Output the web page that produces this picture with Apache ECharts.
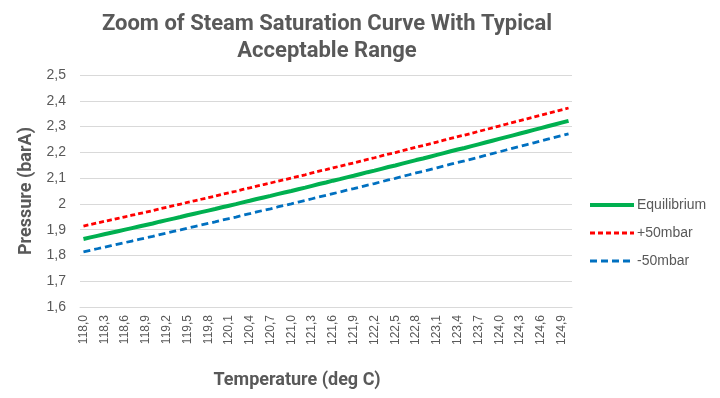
<!DOCTYPE html>
<html>
<head>
<meta charset="utf-8">
<script src="https://cdn.jsdelivr.net/npm/echarts@6/dist/echarts.min.js"></script>
<style>
  html, body { margin: 0; padding: 0; background: #fff; }
  #chart { width: 720px; height: 398px; }
</style>
</head>
<body>
<div id="chart"></div>
<script>
// temperature steps (deg C), 0.1 apart
var temps = [
  '118,0','118,1','118,2','118,3','118,4','118,5','118,6','118,7','118,8','118,9',
  '119,0','119,1','119,2','119,3','119,4','119,5','119,6','119,7','119,8','119,9',
  '120,0','120,1','120,2','120,3','120,4','120,5','120,6','120,7','120,8','120,9',
  '121,0','121,1','121,2','121,3','121,4','121,5','121,6','121,7','121,8','121,9',
  '122,0','122,1','122,2','122,3','122,4','122,5','122,6','122,7','122,8','122,9',
  '123,0','123,1','123,2','123,3','123,4','123,5','123,6','123,7','123,8','123,9',
  '124,0','124,1','124,2','124,3','124,4','124,5','124,6','124,7','124,8','124,9',
  '125,0'
];

// saturation pressure (barA)
var equilibrium = [
  1.864,1.870,1.876,1.882,1.888,1.894,1.900,1.906,1.912,1.918,
  1.924,1.931,1.937,1.943,1.949,1.956,1.962,1.968,1.974,1.980,
  1.987,1.993,1.999,2.006,2.012,2.019,2.025,2.031,2.038,2.044,
  2.050,2.057,2.063,2.070,2.077,2.083,2.090,2.096,2.103,2.109,
  2.116,2.123,2.129,2.136,2.143,2.149,2.156,2.163,2.170,2.176,
  2.183,2.190,2.197,2.204,2.211,2.217,2.224,2.231,2.238,2.245,
  2.252,2.259,2.266,2.273,2.280,2.287,2.294,2.301,2.308,2.315,
  2.322
];

var plus50 = [
  1.914,1.920,1.926,1.932,1.938,1.944,1.950,1.956,1.962,1.968,
  1.974,1.981,1.987,1.993,1.999,2.006,2.012,2.018,2.024,2.030,
  2.037,2.043,2.049,2.056,2.062,2.069,2.075,2.081,2.088,2.094,
  2.100,2.107,2.113,2.120,2.127,2.133,2.140,2.146,2.153,2.159,
  2.166,2.173,2.179,2.186,2.193,2.199,2.206,2.213,2.220,2.226,
  2.233,2.240,2.247,2.254,2.261,2.267,2.274,2.281,2.288,2.295,
  2.302,2.309,2.316,2.323,2.330,2.337,2.344,2.351,2.358,2.365,
  2.372
];

var minus50 = [
  1.814,1.820,1.826,1.832,1.838,1.844,1.850,1.856,1.862,1.868,
  1.874,1.881,1.887,1.893,1.899,1.906,1.912,1.918,1.924,1.930,
  1.937,1.943,1.949,1.956,1.962,1.969,1.975,1.981,1.988,1.994,
  2.000,2.007,2.013,2.020,2.027,2.033,2.040,2.046,2.053,2.059,
  2.066,2.073,2.079,2.086,2.093,2.099,2.106,2.113,2.120,2.126,
  2.133,2.140,2.147,2.154,2.161,2.167,2.174,2.181,2.188,2.195,
  2.202,2.209,2.216,2.223,2.230,2.237,2.244,2.251,2.258,2.265,
  2.272
];

var seriesNames = ['Equilibrium', '+50mbar', '-50mbar'];

var textColor = '#595959';
var font = 'Liberation Sans, Arial, sans-serif';

var chart = echarts.init(document.getElementById('chart'));
var option = {
  backgroundColor: '#fff',
  animation: false,
  textStyle: { fontFamily: font },
  title: {
    text: 'Zoom of Steam Saturation Curve With Typical\nAcceptable Range',
    left: 322,
    top: 6,
    textAlign: 'center',
    textStyle: {
      fontFamily: 'Roboto, sans-serif',
      fontSize: 22,
      fontWeight: 'bold',
      color: textColor,
      lineHeight: 27
    }
  },
  legend: {
    orient: 'vertical',
    left: 588,
    top: 198,
    padding: 0,
    itemWidth: 44,
    itemHeight: 14,
    itemGap: 14,
    data: seriesNames,
    itemStyle: { opacity: 0 },
    lineStyle: { width: 'inherit' },
    textStyle: { color: textColor, fontSize: 14, fontFamily: font, padding: [0, 0, 0, -2] }
  },
  grid: {
    left: 80,
    right: 148,
    top: 75,
    bottom: 91,
    containLabel: false
  },
  xAxis: {
    type: 'category',
    data: temps,
    boundaryGap: true,
    name: 'Temperature (deg C)',
    nameLocation: 'middle',
    nameGap: 64,
    nameTextStyle: {
      fontFamily: 'Roboto, sans-serif',
      fontSize: 18,
      fontWeight: 'bold',
      color: textColor,
      padding: [0, 58, 0, 0]
    },
    axisLine: { show: true, lineStyle: { color: '#d9d9d9' } },
    axisTick: { show: false },
    axisLabel: {
      interval: 2,
      rotate: 90,
      margin: 8,
      color: textColor,
      fontSize: 12
    },
    splitLine: { show: false }
  },
  yAxis: {
    type: 'value',
    min: 1.6,
    max: 2.5,
    interval: 0.1,
    name: 'Pressure (barA)',
    nameLocation: 'middle',
    nameGap: 42,
    nameTextStyle: {
      fontFamily: 'Roboto, sans-serif',
      fontSize: 18,
      fontWeight: 'bold',
      color: textColor
    },
    axisLine: { show: false },
    axisTick: { show: false },
    axisLabel: {
      margin: 14,
      color: textColor,
      fontSize: 14,
      formatter: function (v) {
        return String(Math.round(v * 10) / 10).replace('.', ',');
      }
    },
    splitLine: { lineStyle: { color: '#d9d9d9', width: 1 } }
  },
  series: [
    {
      name: seriesNames[0],
      type: 'line',
      data: equilibrium,
      symbol: 'none',
      z: 3,
      lineStyle: { color: '#00b050', width: 4 },
      itemStyle: { color: '#00b050' }
    },
    {
      name: seriesNames[1],
      type: 'line',
      data: plus50,
      symbol: 'none',
      lineStyle: { color: '#ff0000', width: 2.8, type: [5, 3] },
      itemStyle: { color: '#ff0000' }
    },
    {
      name: seriesNames[2],
      type: 'line',
      data: minus50,
      symbol: 'none',
      lineStyle: { color: '#0070c0', width: 2.8, type: [7, 4] },
      itemStyle: { color: '#0070c0' }
    }
  ]
};
chart.setOption(option);
</script>
</body>
</html>
